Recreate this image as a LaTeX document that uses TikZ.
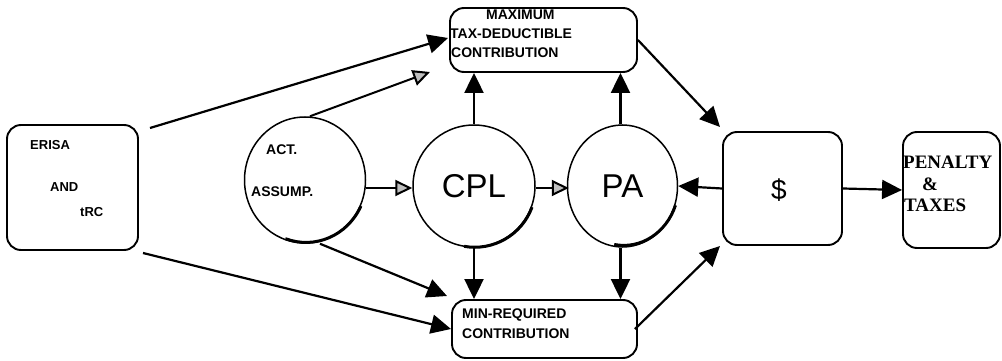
\documentclass[tikz,border=0pt]{standalone}
\usepackage{fontspec}
\setmainfont{Liberation Serif}
\setsansfont{Liberation Sans}
\usetikzlibrary{arrows.meta,shapes.geometric}
\begin{document}
\begin{tikzpicture}[x=1pt,y=-1pt,
  box/.style={draw,line width=1.9pt,rounded corners=14pt,inner sep=0pt},
  bub/.style={draw,line width=1.5pt,inner sep=0pt},
  conn/.style={line width=2.2pt,-{Triangle[length=20pt,width=19pt]}},
  light/.style={line width=2pt,-{Triangle[length=17pt,width=16pt,fill=gray!50]}},
  lbl/.style={inner sep=0pt,anchor=west,font=\sffamily\bfseries\fontsize{14}{16}\selectfont},
  lbls/.style={inner sep=0pt,anchor=west,font=\sffamily\bfseries\fontsize{13}{15}\selectfont},
  serif/.style={inner sep=0pt,anchor=west,font=\bfseries\fontsize{19}{22}\selectfont},
  big/.style={font=\sffamily\fontsize{33}{36}\selectfont}]
\useasboundingbox (0,0) rectangle (1002,361);

% boxes
\node[box,minimum width=131pt,minimum height=125pt] (erisa) at (72.5,187.5) {};
\node[lbls] at (30,145) {ERISA};
\node[lbls] at (50,187) {AND};
\node[lbls] at (80,212) {tRC};

\node[box,minimum width=187pt,minimum height=64pt] (max) at (543.5,40) {};
\node[lbl] at (486,15) {MAXIMUM};
\node[lbl] at (450,34) {TAX-DEDUCTIBLE};
\node[lbl] at (451,53) {CONTRIBUTION};

\node[box,minimum width=185pt,minimum height=58pt] (min) at (544.5,329) {};
\node[lbl] at (462,315) {MIN-REQUIRED};
\node[lbl] at (462,334) {CONTRIBUTION};

\node[box,minimum width=119pt,minimum height=113pt] (money) at (782.5,188.5) {};
\node[font=\sffamily\fontsize{28}{30}\selectfont] at (779,190) {\$};

\node[box,minimum width=97pt,minimum height=116pt] (pen) at (951.5,190) {};
\node[serif] at (903,162) {PENALTY};
\node[serif] at (922,184) {\&};
\node[serif] at (904,205) {TAXES};

% circles
\node[bub,ellipse,minimum width=121pt,minimum height=126pt] (act) at (305,180) {};
\node[lbl] at (266,150) {ACT.};
\node[lbl] at (251,192) {ASSUMP.};
\node[bub,ellipse,minimum width=122pt,minimum height=122pt,big] (cpl) at (474,186) {CPL};
\node[bub,ellipse,minimum width=110pt,minimum height=122pt,big] (pa) at (622.5,186) {PA};

% shadows on the circles
\draw[line width=3pt] (act.-25) arc[start angle=-25,end angle=-110,x radius=60.5pt,y radius=63pt];
\draw[line width=3pt] (cpl.-20) arc[start angle=-20,end angle=-100,x radius=61pt,y radius=61pt];
\draw[line width=3pt] (pa.-20) arc[start angle=-20,end angle=-100,x radius=55pt,y radius=61pt];

% connectors
\coordinate (e1) at (150,128);
\coordinate (e2) at (143,253);
\coordinate (t1) at (448,38);
\coordinate (t2) at (430,72);
\coordinate (b1) at (447,296);
\coordinate (b2) at (451,329);
\coordinate (m1) at (720,127);
\coordinate (m2) at (720,246);

\draw[conn] (e1) -- (t1);
\draw[conn] (e2) -- (b2);
\draw[light] (act.north) ++(5,0) -- (t2);
\draw[conn] (act.south) ++(15,0) -- (b1);
\draw[light] (act.east) ++(0,8) -- ++(46,0);
\draw[light] (cpl.east) ++(0,2) -- ++(33,0);
\draw[conn] (cpl.north) -- (cpl.north |- max.south);
\draw[conn] (cpl.south) -- (cpl.south |- min.north);
\draw[conn] (pa.north) ++(-2,0) -- ([xshift=-2pt]pa.north |- max.south);
\draw[conn] (pa.south) ++(-2,0) -- ([xshift=-2pt]pa.south |- min.north);
\draw[conn] (max.east) -- (m1);
\draw[conn] (min.east) ++(-3,0) -- (m2);
\draw[conn] (money.west) -- (pa.east);
\draw[conn] (money.east) -- (pen.west);
\end{tikzpicture}
\end{document}
